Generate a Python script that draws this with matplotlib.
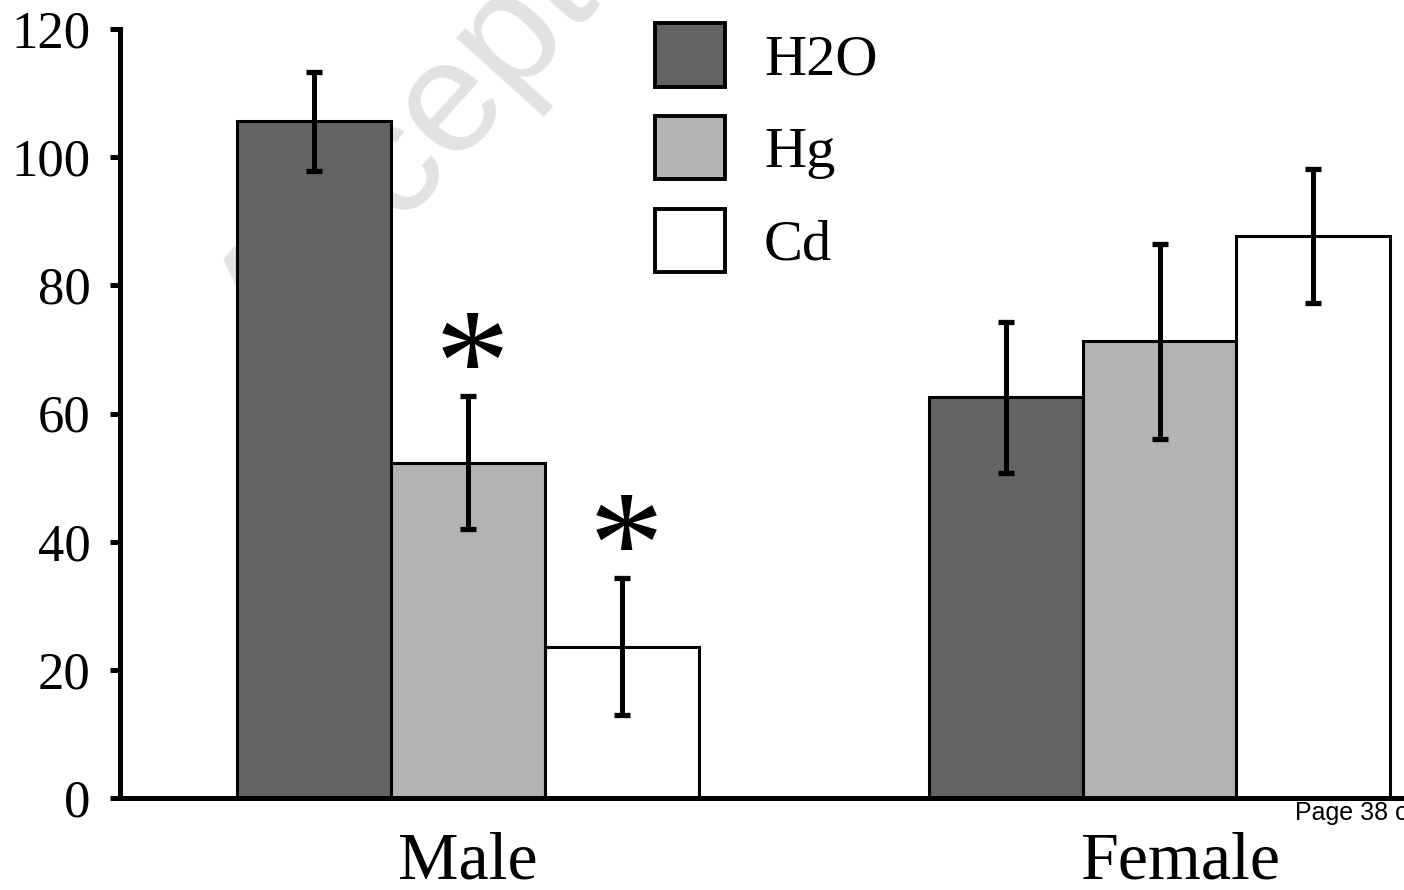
import matplotlib.pyplot as plt
import numpy as np

# values
groups = ['Male', 'Female']
series = ['H2O', 'Hg', 'Cd']
means = {'H2O': [105.6, 62.5], 'Hg': [52.3, 71.25], 'Cd': [23.6, 87.7]}
errs = {'H2O': [7.7, 11.8], 'Hg': [10.4, 15.2], 'Cd': [10.7, 10.4]}
colors = {'H2O': '#636363', 'Hg': '#b3b3b3', 'Cd': '#ffffff'}
# significance marks: (group index, series)
stars = [(0, 'Hg'), (0, 'Cd')]

serif = 'Liberation Serif'
sans = 'Liberation Sans'

fig = plt.figure(figsize=(14.04, 8.90), dpi=100)
ax = fig.add_axes([120 / 1404, 1 - 798 / 890, 1 - 120 / 1404, (798 - 29) / 890])
ax.set_facecolor('none')

centers = np.array([1.0, 5.5])
w = 1.0
for i, s in enumerate(series):
    x = centers + (i - 1) * w
    ax.bar(x, means[s], width=w, color=colors[s], edgecolor='black',
           linewidth=2.2, label=s, zorder=2)
    ax.errorbar(x, means[s], yerr=errs[s], fmt='none', ecolor='black',
                elinewidth=3.6, capsize=6, capthick=3.8, zorder=3)

for g, s in stars:
    i = series.index(s)
    x = centers[g] + (i - 1) * w
    ax.text(x + 0.03, means[s][g] + errs[s][g] + 3.4, '*', fontsize=108, family=serif,
            ha='center', va='center', zorder=4)

ax.set_xlim(-1.264, 7.09)
ax.set_ylim(0, 120)
ax.set_yticks(np.arange(0, 121, 20))
ax.set_xticks(centers + [0.0, 0.13])
ax.set_xticklabels(groups, family=serif, fontsize=49)
ax.tick_params(axis='x', length=0, pad=24)
ax.tick_params(axis='y', length=7, width=3.6, pad=14, labelsize=38)
for lbl in ax.get_yticklabels():
    lbl.set_family(serif)

for side in ['top', 'right']:
    ax.spines[side].set_visible(False)
ax.spines['left'].set_linewidth(3.6)
ax.spines['bottom'].set_linewidth(3.6)
ax.spines['left'].set_zorder(5)
ax.spines['bottom'].set_zorder(5)

leg = ax.legend(loc='upper left', bbox_to_anchor=(655 / 1404, 1 - 23 / 890),
                bbox_transform=fig.transFigure, frameon=False,
                prop={'family': serif, 'size': 42}, borderpad=0, borderaxespad=0,
                handlelength=1.2, handleheight=1.3, handletextpad=0.67,
                labelspacing=0.5)
for p in leg.get_patches():
    p.set_linewidth(2.8)

# watermark and page footer from the source page
ax.text(275 / 1404, 1 - 366 / 890, 'Accepted Manuscript', transform=fig.transFigure,
        rotation=48, rotation_mode='anchor', ha='left', va='baseline',
        fontsize=115, family=sans, color='#e2e2e2', zorder=0)
fig.text(1295 / 1404, 1 - 820 / 890, 'Page 38 of 40', fontsize=18, family=sans,
         va='baseline', ha='left')

fig.savefig('out.png', dpi=100)
